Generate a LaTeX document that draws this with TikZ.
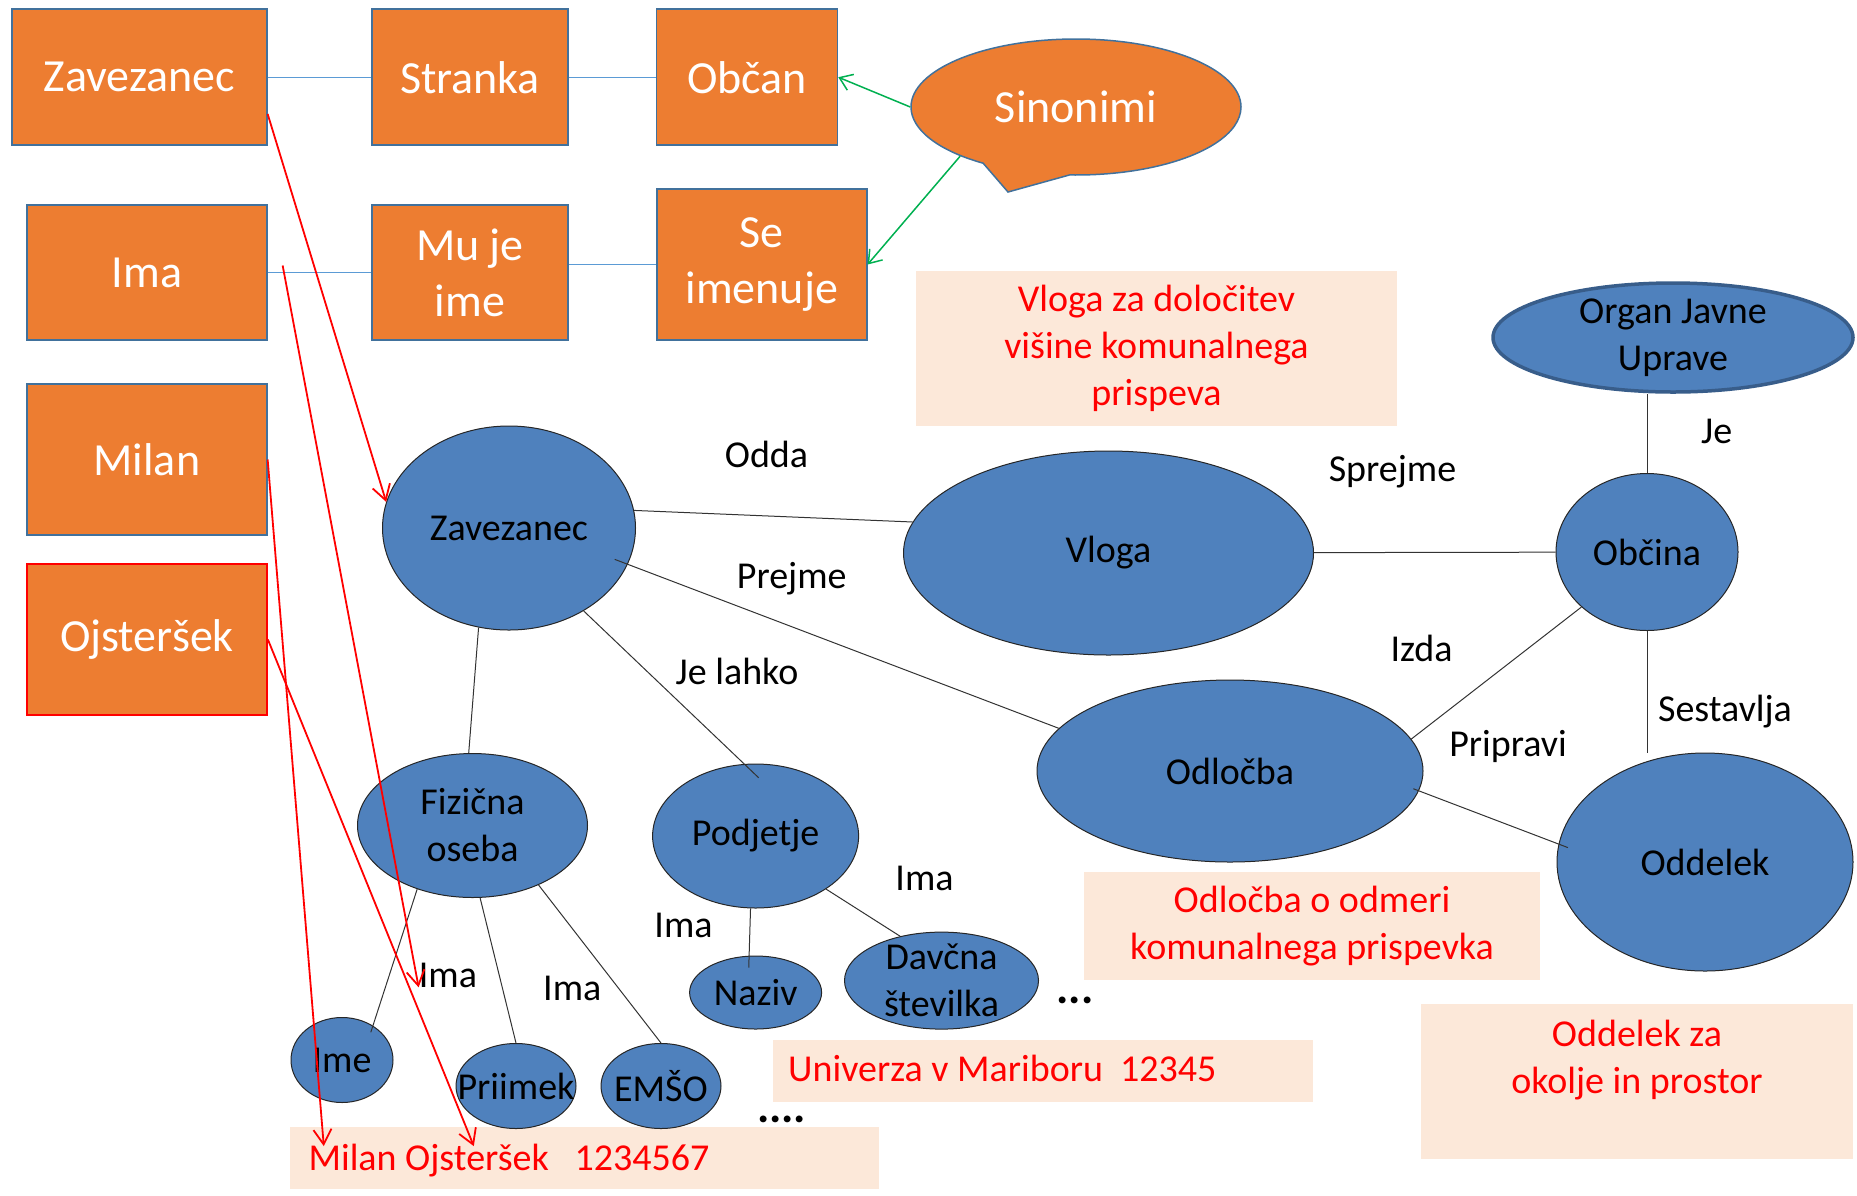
\documentclass[tikz,border=0pt]{standalone}
\usepackage{fontspec}
\setmainfont{Carlito}
\usepackage{tikz}
\usetikzlibrary{calc,arrows.meta,shapes.geometric,shapes.callouts}
\definecolor{orng}{HTML}{ED7D31}
\definecolor{orngline}{HTML}{41719C}
\definecolor{blu}{HTML}{4F81BD}
\definecolor{bludark}{HTML}{385D8A}
\definecolor{peach}{HTML}{FCE8D9}
\definecolor{txtred}{HTML}{FF0000}
\definecolor{synblue}{HTML}{5B9BD5}
\definecolor{grn}{HTML}{00B050}
\tikzset{
  obox/.style={rectangle, draw=orngline, line width=1.5pt, fill=orng, text=white, inner sep=0pt, align=center, font=\fontsize{46}{56}\selectfont},
  ell/.style={ellipse, draw=black!85, line width=1pt, fill=blu, inner sep=0pt},
  etxt/.style={text=black, inner sep=0pt, align=center, font=\fontsize{38}{47}\selectfont},
  note/.style={rectangle, fill=peach, inner sep=0pt},
  rtxt/.style={text=txtred, inner sep=0pt, align=center, font=\fontsize{38}{47}\selectfont},
  lab/.style={text=black, inner sep=0pt, anchor=base, font=\fontsize{38}{47}\selectfont},
  dotrow/.style={text=black, inner sep=0pt, font=\fontsize{46}{50}\selectfont\bfseries},
  conn/.style={draw=black!80, line width=1pt},
  synline/.style={draw=synblue, line width=1.2pt},
  grnarr/.style={draw=grn, line width=1.5pt, -{Straight Barb[length=12pt,width=17pt]}},
  redarr/.style={draw=txtred, line width=1.8pt, -{Straight Barb[length=15pt,width=18pt]}},
}
\begin{document}
\begin{tikzpicture}[x=1pt,y=-1pt]
  \useasboundingbox (0,0) rectangle (1857,1195);

  \node[obox, minimum width=255pt, minimum height=136pt] (zbox) at (139.4,77.2) {Zavezanec};
  \node[obox, minimum width=196pt, minimum height=136pt] (str) at (470,77.2) {Stranka};
  \node[obox, minimum width=181pt, minimum height=136pt] (obcan) at (747,77.2) {Občan};
  \node[obox, minimum width=240pt, minimum height=135pt] (ima) at (146.9,272.5) {Ima};
  \node[obox, minimum width=196pt, minimum height=135pt] (muje) at (470,272.5) {Mu je\\ime};
  \node[obox, minimum width=210pt, minimum height=151pt] (seim) at (761.8,264.5) {Se\\imenuje};
  \node[obox, minimum width=240pt, minimum height=151pt] (milan) at (146.9,459.5) {Milan};
  \node[obox, draw=txtred, line width=2pt, minimum width=240pt, minimum height=151pt] (ojst) at (146.9,639.5) {Ojsteršek};
  \node[ellipse callout, draw=orngline, line width=1.5pt, fill=orng, text=white, font=\fontsize{46}{56}\selectfont,
        minimum width=330pt, minimum height=136pt, callout absolute pointer={(1008,192)}, callout pointer arc=32] (sin) at (1076,107) {Sinonimi};

  \node[note, rtxt, minimum width=481pt, minimum height=155pt] (vbox) at (1156.5,348.2) {Vloga za določitev\\višine komunalnega\\prispeva};
  \node[note, rtxt, minimum width=456pt, minimum height=108pt] (odbox) at (1312,926) {Odločba o odmeri\\komunalnega prispevka};
  \node[note, minimum width=540pt, minimum height=62pt] (unibox) at (1042.5,1070.5) {};
  \node[rtxt, anchor=base west] (unitxt) at (788,1081.7) {Univerza v Mariboru\ \ 12345};
  \node[note, minimum width=589pt, minimum height=62pt] (mobox) at (584.5,1158.3) {};
  \node[rtxt, anchor=base west] (motxt) at (308.4,1170) {Milan Ojsteršek\ \ \ 1234567};
  \node[note, minimum width=432pt, minimum height=155pt] (oddbox) at (1637,1081.5) {};
  \node[rtxt] (oddtxt) at (1637,1060) {Oddelek za\\okolje in prostor};

  \node[ell, minimum width=253pt, minimum height=204pt, label={[etxt]center:Zavezanec}] (zav) at (509,528) {};
  \node[ell, minimum width=410pt, minimum height=204pt, label={[etxt]center:Vloga}] (vlo) at (1108.5,553) {};
  \node[ell, minimum width=182pt, minimum height=157pt, label={[etxt]center:Občina}] (obc) at (1647,552) {};
  \node[ell, draw=bludark, line width=3.5pt, minimum width=360pt, minimum height=109pt, label={[etxt]center:{Organ Javne\\Uprave}}] (org) at (1673,337.5) {};
  \node[ell, minimum width=386pt, minimum height=182pt, label={[etxt]center:Odločba}] (odl) at (1230,771) {};
  \node[ell, minimum width=296pt, minimum height=218pt, label={[etxt]center:Oddelek}] (odd) at (1705,862) {};
  \node[ell, minimum width=230pt, minimum height=144pt, label={[etxt]center:{Fizična\\oseba}}] (fiz) at (472.5,825.5) {};
  \node[ell, minimum width=206pt, minimum height=144pt, label={[etxt]center:Podjetje}] (pod) at (755.6,836) {};
  \node[ell, minimum width=132pt, minimum height=73pt, label={[etxt]center:Naziv}] (naz) at (755.6,992.5) {};
  \node[ell, minimum width=194pt, minimum height=97pt, label={[etxt]center:{Davčna\\številka}}] (dav) at (941.5,980.6) {};
  \node[ell, minimum width=102pt, minimum height=85pt, label={[etxt]center:Ime}] (ime) at (342,1060) {};
  \node[ell, minimum width=120pt, minimum height=85pt, label={[etxt]center:Priimek}] (pri) at (516,1086) {};
  \node[ell, minimum width=120pt, minimum height=85pt, label={[etxt]center:EMŠO}] (ems) at (661,1086) {};

  \node[lab] (odda) at (766.5,467.3) {Odda};
  \node[lab] (prejme) at (791.7,588.3) {Prejme};
  \node[lab] (jelahko) at (737,684.3) {Je lahko};
  \node[lab] (sprejme) at (1392.5,481.7) {Sprejme};
  \node[lab] (je) at (1716.7,443) {Je};
  \node[lab] (izda) at (1421.5,661) {Izda};
  \node[lab] (sestavlja) at (1725,721.7) {Sestavlja};
  \node[lab] (pripravi) at (1508,756.7) {Pripravi};
  \node[lab] (ima1) at (447.9,987.3) {Ima};
  \node[lab] (ima2) at (572.3,1000.7) {Ima};
  \node[lab] (ima3) at (683.5,937.3) {Ima};
  \node[lab] (ima4) at (924.5,890) {Ima};
  \node[dotrow] (dots1) at (1075,1000) {...};
  \node[dotrow] (dots2) at (781.6,1119) {....};

  \draw[synline] (zbox.east) -- (str.west);
  \draw[synline] (str.east) -- (obcan.west);
  \draw[synline] (ima.east) -- (muje.west);
  \draw[synline] (muje.east |- seim.west) -- (seim.west);
  \draw[grnarr] (sin.west) -- (obcan.east);
  \draw[grnarr] (sin.203) -- (seim.east);

  \draw[conn] (zav.8) -- (vlo.171);
  \draw[conn, shorten <=-14pt] (zav.-17) -- (odl.166);
  \draw[conn] (zav.253) -- (fiz.93);
  \draw[conn, shorten >=-20pt] (zav.-48) -- (pod.99);
  \draw[conn] (vlo) -- (obc);
  \draw[conn] (obc.north) -- (obc.north |- org.south);
  \draw[conn] (obc.220) -- (odl.10);
  \draw[conn] (obc.south) -- (obc.south |- odd.north);
  \draw[conn, shorten <=-6pt, shorten >=-10pt] (odl.-6) -- (odd.173);
  \draw[conn, shorten >=-7pt] (fiz.229) -- (ime.48);
  \draw[conn] (fiz.-84) -- (pri.north);
  \draw[conn] (fiz.-42) -- (ems.north);
  \draw[conn, shorten >=-12pt] (pod.266) -- (naz.100);
  \draw[conn] (pod.-37) -- (dav.133);

  \coordinate (imaout) at ($(ima.east)+(15,-7)$);
  \coordinate (tipm) at ($(mobox.north west)+(34,19)$);
  \coordinate (tipo) at ($(mobox.north west)+(184,19)$);
  \draw[redarr] (zbox.-16.5) -- (zav.168);
  \draw[redarr] (imaout) -- (ima1.base west);
  \draw[redarr] (milan.east) -- (tipm);
  \draw[redarr] (ojst.east) -- (tipo);
\end{tikzpicture}
\end{document}
